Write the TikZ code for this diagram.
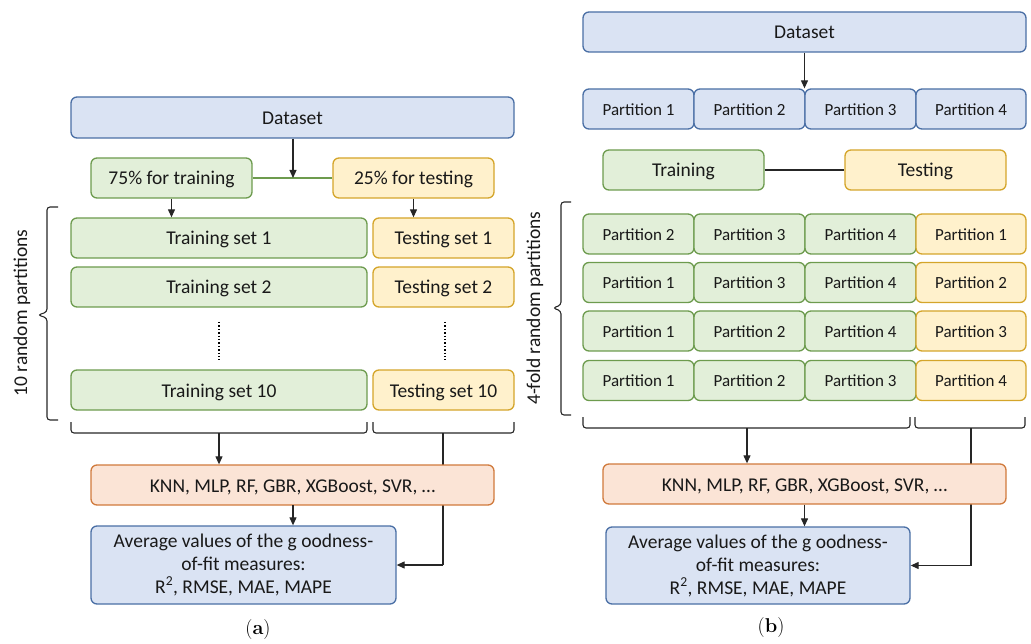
\documentclass[tikz,border=0pt]{standalone}
\usepackage{fontspec}
\setsansfont{Carlito}
\usetikzlibrary{arrows.meta}

\definecolor{blueFill}{HTML}{DAE3F3}
\definecolor{blueLine}{HTML}{4A6FA5}
\definecolor{greenFill}{HTML}{E2EFD9}
\definecolor{greenLine}{HTML}{6D9B4E}
\definecolor{yellowFill}{HTML}{FFF1CC}
\definecolor{yellowLine}{HTML}{D4A52A}
\definecolor{orangeFill}{HTML}{FBE4D6}
\definecolor{orangeLine}{HTML}{D07A3C}

\tikzset{
  box/.style={rounded corners=6pt, line width=1.3pt, inner sep=0pt, align=center,
    font=\sffamily\fontsize{19.5}{23}\selectfont, text=black!90},
  oneline/.style={text height=14pt, text depth=0pt},
  bluebox/.style={box, fill=blueFill, draw=blueLine},
  greenbox/.style={box, oneline, fill=greenFill, draw=greenLine},
  yellowbox/.style={box, oneline, fill=yellowFill, draw=yellowLine},
  orangebox/.style={box, oneline, fill=orangeFill, draw=orangeLine},
  part/.style={font=\sffamily\fontsize{17}{20}\selectfont, text height=12.5pt, text depth=0pt,
    minimum width=111pt, minimum height=40pt},
  conn/.style={line width=1.1pt, black!85},
  arr/.style={conn, -{Triangle[length=8pt,width=7pt]}},
  brace/.style={line width=1.1pt, black!85, rounded corners=3pt},
  sidelabel/.style={font=\sffamily\fontsize{19.5}{23}\selectfont, rotate=90, text=black!90},
  caption/.style={font=\fontsize{20}{24}\selectfont}
}

\begin{document}
\begin{tikzpicture}[x=1pt, y=-1pt]
\useasboundingbox (0,0) rectangle (1031,644);

% ---------------- left scheme: repeated random split ----------------
\node[bluebox, oneline, minimum width=443pt, minimum height=41pt] (dsA) at (292.5,117.5) {Dataset};
\node[greenbox, minimum width=161pt, minimum height=40pt] (trA) at (171.5,178) {75\% for training};
\node[yellowbox, minimum width=161pt, minimum height=40pt] (teA) at (413.5,178) {25\% for testing};
\draw[conn, greenLine] (trA) -- (teA);
\coordinate (splitA) at (293,178);
\draw[arr] (dsA.south -| splitA) -- (splitA);

\node[greenbox, minimum width=296pt, minimum height=40pt] (tsA1) at (219,238) {Training set 1};
\node[yellowbox, minimum width=141pt, minimum height=40pt] (esA1) at (443.5,238) {Testing set 1};
\node[greenbox, minimum width=296pt, minimum height=40pt] (tsA2) at (219,287) {Training set 2};
\node[yellowbox, minimum width=141pt, minimum height=40pt] (esA2) at (443.5,287) {Testing set 2};
\node[greenbox, minimum width=296pt, minimum height=40pt] (tsA10) at (219,390) {Training set 10};
\node[yellowbox, minimum width=141pt, minimum height=40pt] (esA10) at (443.5,390) {Testing set 10};

\draw[arr] (trA.south) -- (trA.south |- tsA1.north);
\draw[arr] (teA.south) -- (teA.south |- esA1.north);

% dotted continuation between set 2 and set 10
\coordinate (dotA1t) at (219,322); \coordinate (dotA1b) at (219,360);
\coordinate (dotA2t) at (445,322); \coordinate (dotA2b) at (445,360);
\draw[line width=1.4pt, dotted] (dotA1t) -- (dotA1b);
\draw[line width=1.4pt, dotted] (dotA2t) -- (dotA2b);

% side brace
\coordinate (sbA) at (38,315);
\draw[brace] (58,207) -- (47,207) -- (47,312) -- (sbA) -- (47,318) -- (47,420) -- (58,420);
\node[sidelabel] (labA) at (22,313) {10 random partitions};

% bottom braces
\coordinate (bbA1) at (219,433);
\coordinate (bbA2) at (443,433);
\draw[brace] (71,422) |- (bbA1) -| (367,422);
\draw[brace] (373,422) |- (bbA2) -| (514,422);

% testing results bypass the models box (drawn first, so the box covers it)
\coordinate (turnA) at (443,565);
\draw[conn] (bbA2) -- (turnA);

\node[orangebox, minimum width=403pt, minimum height=40pt] (knnA) at (292.5,485) {KNN, MLP, RF, GBR, XGBoost, SVR, \dots};
\node[bluebox, minimum width=305pt, minimum height=78pt] (avgA) at (243.5,565)
  {Average values of the g oodness-\\of-fit measures:\\R\textsuperscript{2}, RMSE, MAE, MAPE};

\draw[arr] (bbA1) -- (bbA1 |- knnA.north);
\coordinate (modA) at (293,505);
\draw[arr] (modA) -- (modA |- avgA.north);
\draw[arr] (turnA) -- (avgA.east);

\node[caption] (capA) at (258,630) {(\textbf{a})};

% ---------------- right scheme: 4-fold cross-validation ----------------
\node[bluebox, oneline, minimum width=443pt, minimum height=40pt] (dsB) at (804.5,32) {Dataset};
\node[bluebox, part] (p1) at (638.5,109) {Partition 1};
\node[bluebox, part] (p2) at (749.5,109) {Partition 2};
\node[bluebox, part] (p3) at (860.5,109) {Partition 3};
\node[bluebox, part, minimum width=110pt] (p4) at (971,109) {Partition 4};
\draw[arr] (dsB.south) -- (dsB.south |- p2.north);

\node[greenbox, minimum width=161pt, minimum height=40pt] (trB) at (683.5,170) {Training};
\node[yellowbox, minimum width=161pt, minimum height=40pt] (teB) at (925.5,170) {Testing};
\draw[conn] (trB) -- (teB);

% fold rows
\node[greenbox, part] (f1a) at (638.5,234) {Partition 2};
\node[greenbox, part] (f1b) at (749.5,234) {Partition 3};
\node[greenbox, part] (f1c) at (860.5,234) {Partition 4};
\node[yellowbox, part, minimum width=110pt] (f1d) at (971,234) {Partition 1};

\node[greenbox, part] (f2a) at (638.5,282.5) {Partition 1};
\node[greenbox, part] (f2b) at (749.5,282.5) {Partition 3};
\node[greenbox, part] (f2c) at (860.5,282.5) {Partition 4};
\node[yellowbox, part, minimum width=110pt] (f2d) at (971,282.5) {Partition 2};

\node[greenbox, part] (f3a) at (638.5,331) {Partition 1};
\node[greenbox, part] (f3b) at (749.5,331) {Partition 2};
\node[greenbox, part] (f3c) at (860.5,331) {Partition 4};
\node[yellowbox, part, minimum width=110pt] (f3d) at (971,331) {Partition 3};

\node[greenbox, part] (f4a) at (638.5,380.5) {Partition 1};
\node[greenbox, part] (f4b) at (749.5,380.5) {Partition 2};
\node[greenbox, part] (f4c) at (860.5,380.5) {Partition 3};
\node[yellowbox, part, minimum width=110pt] (f4d) at (971,380.5) {Partition 4};

% side brace
\coordinate (sbB) at (553,308);
\draw[brace] (571,202) -- (561,202) -- (561,305) -- (sbB) -- (561,311) -- (561,415) -- (571,415);
\node[sidelabel] (labB) at (535,308) {4-fold random partitions};

% bottom braces
\coordinate (bbB1) at (747,428);
\coordinate (bbB2) at (971,428);
\draw[brace] (583,417) |- (bbB1) -| (910,417);
\draw[brace] (915,417) |- (bbB2) -| (1025,417);

% testing results bypass the models box
\coordinate (turnB) at (971,565.5);
\draw[conn] (bbB2) -- (turnB);

\node[orangebox, minimum width=403pt, minimum height=40pt] (knnB) at (804.5,484) {KNN, MLP, RF, GBR, XGBoost, SVR, \dots};
\node[bluebox, minimum width=304pt, minimum height=77pt] (avgB) at (758,565.5)
  {Average values of the g oodness-\\of-fit measures:\\R\textsuperscript{2}, RMSE, MAE, MAPE};

\draw[arr] (bbB1) -- (bbB1 |- knnB.north);
\draw[arr] (knnB.south) -- (knnB.south |- avgB.north);
\draw[arr] (turnB) -- (avgB.east);

\node[caption] (capB) at (771,628) {(\textbf{b})};
\end{tikzpicture}
\end{document}
